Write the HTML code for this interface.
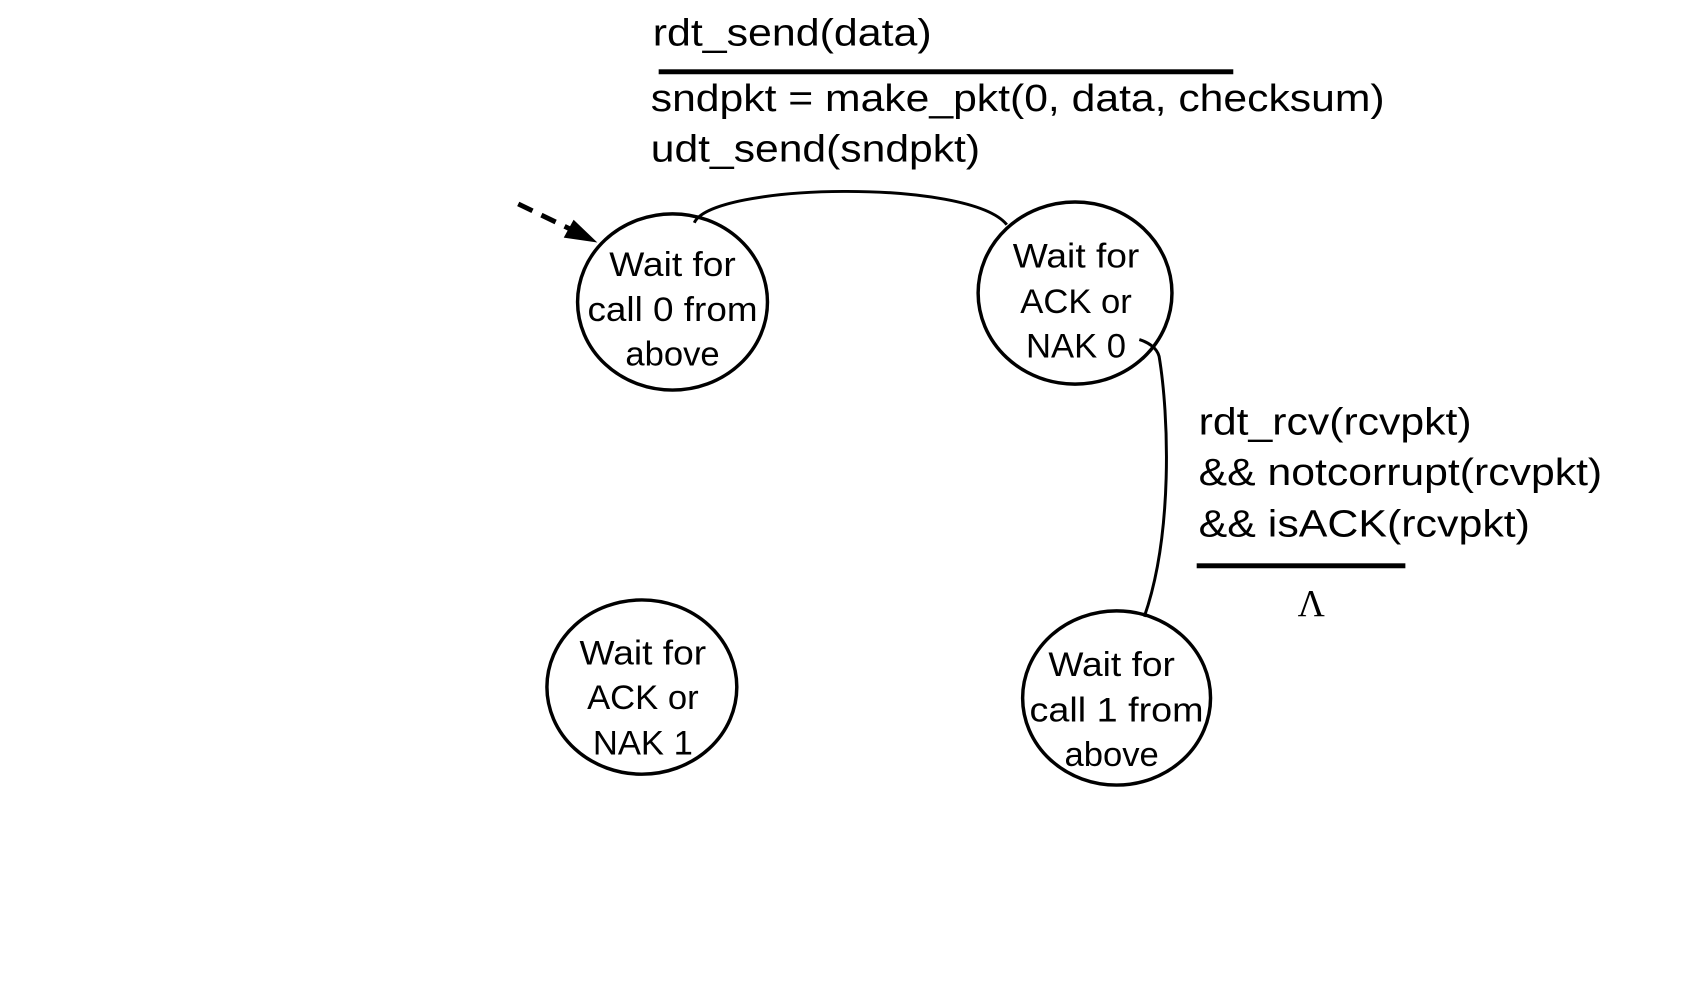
<!DOCTYPE html>
<html><head><meta charset="utf-8"><style>
html,body{margin:0;padding:0;background:#fff;}
svg{display:block;}
text{font-family:"Liberation Sans",Arial,sans-serif;fill:#000;}
</style></head><body>
<svg width="1701" height="992" viewBox="0 0 1701 992" xmlns="http://www.w3.org/2000/svg">
<g transform="scale(0.989,0.99)">
<!-- top label -->
<text x="660" y="46" font-size="38" textLength="282" lengthAdjust="spacingAndGlyphs">rdt_send(data)</text>
<rect x="666" y="70" width="581" height="5" fill="#000"/>
<text x="658" y="112" font-size="38" textLength="742" lengthAdjust="spacingAndGlyphs">sndpkt = make_pkt(0, data, checksum)</text>
<text x="658" y="163" font-size="38" textLength="333" lengthAdjust="spacingAndGlyphs">udt_send(sndpkt)</text>

<!-- dashed initial arrow -->
<line x1="524" y1="206" x2="580" y2="233" stroke="#000" stroke-width="5" stroke-dasharray="16,10"/>
<path d="M604,245 L570,240 L580,222 z" fill="#000"/>

<!-- arc between states 1 and 2 -->
<path d="M702,225 C720,185 980,180 1018,227" fill="none" stroke="#000" stroke-width="3"/>
<!-- hook from state 2 down to state 4 -->
<path d="M1152,343 C1162,346 1170,352 1172,360 C1182,420 1186,540 1157,623" fill="none" stroke="#000" stroke-width="3"/>

<!-- states -->
<ellipse cx="680" cy="305" rx="96" ry="89" fill="none" stroke="#000" stroke-width="3.5"/>
<text x="680" y="279" font-size="35" text-anchor="middle" textLength="128" lengthAdjust="spacingAndGlyphs">Wait for</text>
<text x="680" y="324" font-size="35" text-anchor="middle" textLength="172" lengthAdjust="spacingAndGlyphs">call 0 from</text>
<text x="680" y="369" font-size="35" text-anchor="middle">above</text>

<ellipse cx="1087" cy="296" rx="98" ry="92" fill="none" stroke="#000" stroke-width="3.5"/>
<text x="1088" y="270" font-size="35" text-anchor="middle" textLength="128" lengthAdjust="spacingAndGlyphs">Wait for</text>
<text x="1088" y="316" font-size="35" text-anchor="middle">ACK or</text>
<text x="1088" y="361" font-size="35" text-anchor="middle">NAK 0</text>

<ellipse cx="649" cy="694" rx="96" ry="88" fill="none" stroke="#000" stroke-width="3.5"/>
<text x="650" y="671" font-size="35" text-anchor="middle" textLength="128" lengthAdjust="spacingAndGlyphs">Wait for</text>
<text x="650" y="716" font-size="35" text-anchor="middle">ACK or</text>
<text x="650" y="762" font-size="35" text-anchor="middle">NAK 1</text>

<ellipse cx="1129" cy="705" rx="95" ry="88" fill="none" stroke="#000" stroke-width="3.5"/>
<text x="1124" y="683" font-size="35" text-anchor="middle" textLength="128" lengthAdjust="spacingAndGlyphs">Wait for</text>
<text x="1129" y="729" font-size="35" text-anchor="middle" textLength="176" lengthAdjust="spacingAndGlyphs">call 1 from</text>
<text x="1124" y="774" font-size="35" text-anchor="middle">above</text>

<!-- right label -->
<text x="1212" y="439" font-size="38" textLength="276" lengthAdjust="spacingAndGlyphs">rdt_rcv(rcvpkt)</text>
<text x="1212" y="490" font-size="38" textLength="408" lengthAdjust="spacingAndGlyphs">&amp;&amp; notcorrupt(rcvpkt)</text>
<text x="1212" y="542" font-size="38" textLength="335" lengthAdjust="spacingAndGlyphs">&amp;&amp; isACK(rcvpkt)</text>
<rect x="1210" y="569" width="211" height="5" fill="#000"/>
<text x="1312" y="622" font-size="38" style="font-family:'Liberation Serif',serif">Λ</text>
</g>
</svg>
</body></html>
